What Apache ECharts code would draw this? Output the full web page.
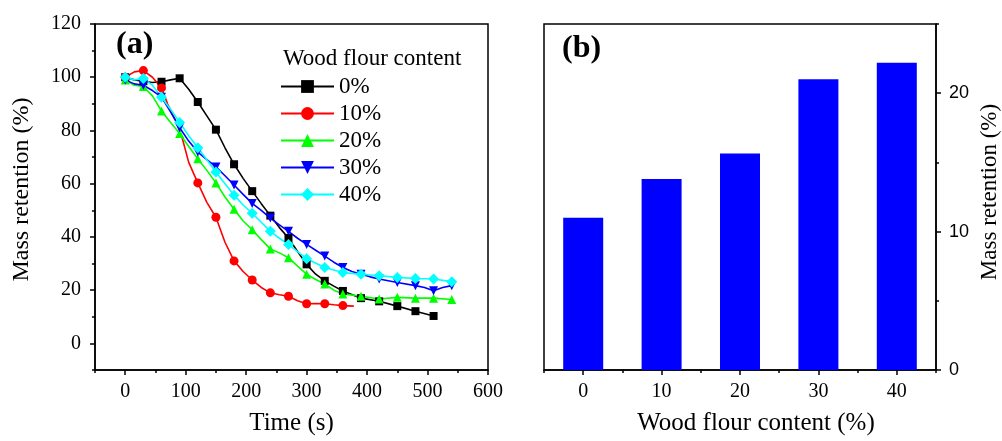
<!DOCTYPE html>
<html>
<head>
<meta charset="utf-8">
<script src="https://cdn.jsdelivr.net/npm/echarts@6/dist/echarts.min.js"></script>
<style>html,body{margin:0;padding:0;background:#fff}#c{width:1002px;height:441px}</style>
</head>
<body>
<div id="c"></div>
<script>
const seriesNames = ['0%', '10%', '20%', '30%', '40%'];
const time0 = [0,15,30,45,60,75,90,105,120,135,150,165,180,195,210,225,240,255,270,285,300,315,330,345,360,390,420,450,480,510];
const mass0 = [100,99,98.5,98,98.3,99,99.6,95.5,90.7,85.5,80.3,73.5,67.3,62,57.2,52.5,48,43.5,39.6,34.5,29.7,26,23.5,21.5,19.7,17,15.8,14,12.1,10.3];
const time10 = [0,15,30,45,60,70,85,95,105,120,135,150,165,180,195,210,225,240,255,270,285,300,315,330,345,360,378];
const mass10 = [100,102,102.5,100,96,90,83,76.5,68,60.3,53,47.4,38,31,27,23.8,21,19,18.3,17.7,16,14.9,15,14.9,14.5,14.2,14];
const time20 = [0,15,30,45,60,75,90,105,120,135,150,165,180,195,210,225,240,255,270,285,300,315,330,345,360,390,420,450,480,510,540];
const mass20 = [99,97,96.5,93,87.3,83,78.9,74,69.4,65,60.3,55,50.4,46,42.7,39,35.5,34,32.2,29,26,24,22.3,20,18.6,17.7,16.7,17.3,17,17,16.5];
const time30 = [0,15,30,45,60,75,90,105,120,135,150,165,180,195,210,225,240,255,270,285,300,315,330,345,360,375,390,405,420,450,480,495,510,525,540];
const mass30 = [99,97.5,97,95,92.5,87,81,76,71.9,69,66.3,63,59.5,56,52.6,50,47.1,44.5,42.1,39.5,37.2,35,32.8,30.5,28.5,27,26,25,24.2,22.9,21.7,21,19.8,21,21.7];
const time40 = [0,15,30,45,60,75,90,105,120,135,150,165,180,195,210,225,240,255,270,285,300,330,360,390,420,450,480,510,540];
const mass40 = [100,99,99.5,97,92.5,88,83,78,73.5,69,64.4,60,55.7,52,48.9,45.5,42.1,39.5,37.2,34.5,31.8,28.5,26.6,26,25.4,24.8,24.4,24.2,23.2];

const timeTicks = [0,100,200,300,400,500,600];
const timeMinorTicks = [-50,50,150,250,350,450,550];
const massTicks = [0,20,40,60,80,100,120];
const massMinorTicks = [-10,10,30,50,70,90,110];

const barCategories = [0,10,20,30,40];
const barValues = [11.0,13.8,15.65,21.0,22.2];
const barTicks = [0,10,20,30,40];
const barMinorTicks = [-5,5,15,25,35,45];
const barYTicks = [0,10,20];
const barYMinorTicks = [5,15,25];

const colors = ['#000000','#ff0000','#00ff00','#0000ff','#00ffff'];
const symbols = ['rect','circle','triangle','triangle','diamond'];
const symRot = [0,0,0,180,0];
const symSizes = [8,9,9,9,11];
const times = [time0,time10,time20,time30,time40];
const masses = [mass0,mass10,mass20,mass30,mass40];

const serif = 'Liberation Serif';
const lineSeries = seriesNames.map((n, k) => ({
  name: n, type: 'line', xAxisIndex: 0, yAxisIndex: 0,
  symbol: symbols[k], symbolRotate: symRot[k], symbolSize: symSizes[k],
  showAllSymbol: true,
  color: colors[k],
  lineStyle: { color: colors[k], width: 1.6 },
  itemStyle: { color: colors[k] },
  animation: false,
  data: times[k].map((t, i) => {
    const o = { value: [t, masses[k][i]] };
    if (t % 30 !== 0) o.symbol = 'none';
    return o;
  })
}));

const axisLineStyle = { onZero: false, lineStyle: { color: '#000', width: 1.5 } };
const noLine = { show: false, onZero: false };
const tickStyle = { lineStyle: { color: '#000', width: 1.5 } };

const option = {
  backgroundColor: '#fff',
  animation: false,
  title: [
    { text: '(a)', left: 116, top: 29, padding: 0, textStyle: { fontFamily: serif, fontWeight: 'bold', fontSize: 32, color: '#000' } },
    { text: '(b)', left: 562, top: 33, padding: 0, textStyle: { fontFamily: serif, fontWeight: 'bold', fontSize: 32, color: '#000' } },
    { text: 'Wood flour content', left: 283, top: 47, padding: 0, textStyle: { fontFamily: serif, fontWeight: 'normal', fontSize: 23, color: '#000' } }
  ],
  legend: {
    data: seriesNames, orient: 'vertical', left: 280, top: 75, padding: 0,
    itemWidth: 53, itemHeight: 16, itemGap: 4,
    textStyle: { fontFamily: serif, fontSize: 23, color: '#000' }
  },
  grid: [
    { left: 95, top: 24, width: 393, height: 351, show: true, borderColor: '#000', borderWidth: 1.5, containLabel: false },
    { left: 544, top: 24, width: 394, height: 352, show: true, borderColor: '#000', borderWidth: 1.5, containLabel: false }
  ],
  xAxis: [
    { gridIndex: 0, type: 'value', min: -50, max: 600, position: 'bottom',
      axisLine: axisLineStyle, splitLine: { show: false },
      axisTick: { customValues: timeTicks, length: 5, ...tickStyle },
      axisLabel: { customValues: timeTicks, margin: 12, fontFamily: serif, fontSize: 20, color: '#000' },
      name: 'Time (s)', nameLocation: 'middle', nameGap: 41, nameTextStyle: { fontFamily: serif, fontSize: 25, color: '#000' } },
    { gridIndex: 0, type: 'value', min: -50, max: 600, position: 'bottom',
      axisLine: noLine, splitLine: { show: false },
      axisTick: { customValues: timeMinorTicks, length: 3, ...tickStyle },
      axisLabel: { show: false } },
    { gridIndex: 1, type: 'value', min: -5, max: 45, position: 'bottom',
      axisLine: axisLineStyle, splitLine: { show: false },
      axisTick: { customValues: barTicks, length: 5, ...tickStyle },
      axisLabel: { customValues: barTicks, margin: 12, fontFamily: serif, fontSize: 20, color: '#000' },
      name: 'Wood flour content (%)', nameLocation: 'middle', nameGap: 41,
      nameTextStyle: { fontFamily: serif, fontSize: 25, color: '#000', padding: [0, 0, 0, 32] } },
    { gridIndex: 1, type: 'value', min: -5, max: 45, position: 'bottom',
      axisLine: noLine, splitLine: { show: false },
      axisTick: { customValues: barMinorTicks, length: 3, ...tickStyle },
      axisLabel: { show: false } }
  ],
  yAxis: [
    { gridIndex: 0, type: 'value', min: -10, max: 120, position: 'left',
      axisLine: axisLineStyle, splitLine: { show: false },
      axisTick: { customValues: massTicks, length: 5, ...tickStyle },
      axisLabel: { customValues: massTicks, margin: 14, fontFamily: serif, fontSize: 20, color: '#000' },
      name: 'Mass retention (%)', nameLocation: 'middle', nameGap: 61, nameRotate: 90,
      nameTextStyle: { fontFamily: serif, fontSize: 24, color: '#000', padding: [0, 0, 0, 15] } },
    { gridIndex: 0, type: 'value', min: -10, max: 120, position: 'left',
      axisLine: noLine, splitLine: { show: false },
      axisTick: { customValues: massMinorTicks, length: 3, ...tickStyle },
      axisLabel: { show: false } },
    { gridIndex: 1, type: 'value', min: 0, max: 25, position: 'right',
      axisLine: axisLineStyle, splitLine: { show: false },
      axisTick: { customValues: barYTicks, length: 5, ...tickStyle },
      axisLabel: { customValues: barYTicks, margin: 13, fontFamily: 'Liberation Sans', fontSize: 18, color: '#000' },
      name: 'Mass retention (%)', nameLocation: 'middle', nameGap: 42, nameRotate: 90,
      nameTextStyle: { fontFamily: serif, fontSize: 23, color: '#000', padding: [0, 0, 0, 10] } },
    { gridIndex: 1, type: 'value', min: 0, max: 25, position: 'right',
      axisLine: noLine, splitLine: { show: false },
      axisTick: { customValues: barYMinorTicks, length: 3, ...tickStyle },
      axisLabel: { show: false } }
  ],
  series: [
    ...lineSeries,
    { name: 'bars', type: 'bar', xAxisIndex: 2, yAxisIndex: 2, barWidth: 40,
      itemStyle: { color: '#0000ff' },
      data: barCategories.map((c, i) => [c, barValues[i]]) }
  ]
};

const chart = echarts.init(document.getElementById('c'), null, { renderer: 'canvas' });
chart.setOption(option);
</script>
</body>
</html>
